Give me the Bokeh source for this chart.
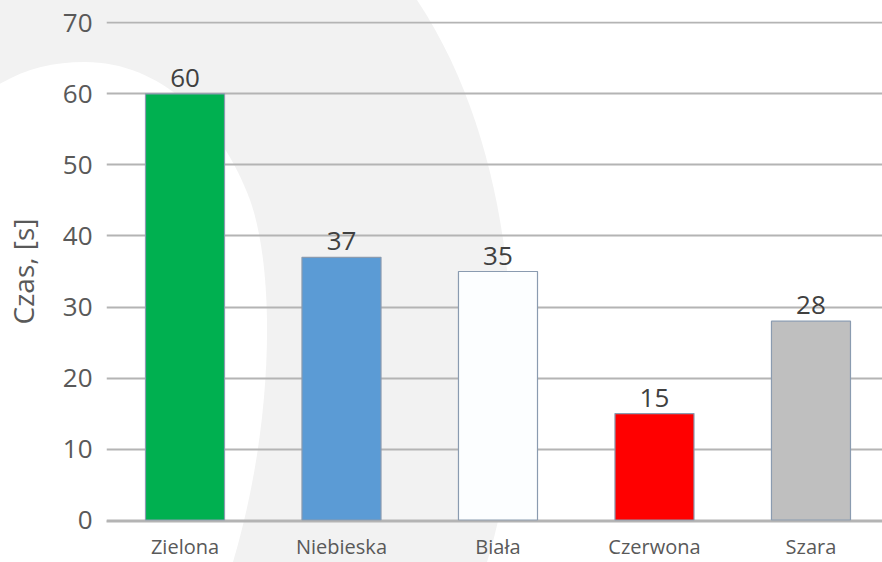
from urllib.parse import quote
from bokeh.plotting import figure
from bokeh.models import Range1d, FixedTicker, ColumnDataSource
from bokeh.core.properties import value
from bokeh.embed import file_html
from bokeh.resources import INLINE

# ---- data ----
categories = ["Zielona", "Niebieska", "Biała", "Czerwona", "Szara"]
times = [60, 37, 35, 15, 28]
bar_colors = ["#00b050", "#5b9bd5", "#fcfeff", "#ff0000", "#bfbfbf"]
y_ticks = [0, 10, 20, 30, 40, 50, 60, 70]

FONT = "Open Sans"

idx = list(range(len(categories)))
src = ColumnDataSource(dict(
    x=idx, top=times, color=bar_colors,
    label=[str(v) for v in times], cat=categories,
))

p = figure(
    width=882, height=562,
    x_range=Range1d(-0.5016, 4.457),
    y_range=Range1d(-0.2, 70.2),
    output_backend="svg", toolbar_location=None,
    min_border_left=106, min_border_right=0,
    min_border_top=21, min_border_bottom=38,
)

# decorative watermark behind the chart (page background)
bg_svg = (
    "<svg xmlns='http://www.w3.org/2000/svg' width='882' height='562' viewBox='0 0 882 562'>"
    "<rect width='882' height='562' fill='#ffffff'/>"
    "<path d='M0,0 L417,0 C490,110 513,250 513,380 C513,460 500,520 487,562 L0,562 Z' fill='#f2f2f2'/>"
    "<path d='M-10,90 C20,70 50,62 85,62 C160,62 220,120 250,200 C275,270 275,420 233,562 L-10,562 Z' fill='#ffffff'/>"
    "</svg>"
)
p.styles = {
    "background-image": 'url("data:image/svg+xml,' + quote(bg_svg) + '")',
    "background-size": "882px 562px",
    "background-repeat": "no-repeat",
}
p.background_fill_color = None
p.border_fill_color = None
p.outline_line_color = None

p.vbar(x="x", top="top", width=0.505, bottom=0, source=src,
       fill_color="color", line_color="#8a9bb0", line_width=1.2)

p.text(x="x", y="top", text="label", source=src,
       text_font=value(FONT), text_font_size="26px", text_color="#404040",
       text_align="center", text_baseline="bottom", y_offset=-7)

# axes
p.xgrid.grid_line_color = None
p.ygrid.grid_line_color = "#b4b4b4"
p.ygrid.grid_line_width = 2
p.ygrid.ticker = FixedTicker(ticks=y_ticks)

p.yaxis.ticker = FixedTicker(ticks=y_ticks)
p.yaxis.axis_line_color = None
p.yaxis.major_tick_line_color = None
p.yaxis.minor_tick_line_color = None
p.yaxis.major_tick_out = 0
p.yaxis.major_label_standoff = 14
p.yaxis.major_label_text_font = FONT
p.yaxis.major_label_text_font_size = "26px"
p.yaxis.major_label_text_color = "#595959"
p.yaxis.axis_label = "Czas, [s]"
p.yaxis.axis_label_text_font = FONT
p.yaxis.axis_label_text_font_size = "28px"
p.yaxis.axis_label_text_font_style = "normal"
p.yaxis.axis_label_text_color = "#595959"
p.yaxis.axis_label_standoff = 18

p.xaxis.ticker = FixedTicker(ticks=idx)
p.xaxis.major_label_overrides = {i: c for i, c in zip(idx, categories)}
p.xaxis.axis_line_color = "#b4b4b4"
p.xaxis.axis_line_width = 2
p.xaxis.major_tick_line_color = None
p.xaxis.minor_tick_line_color = None
p.xaxis.major_tick_out = 0
p.xaxis.major_label_standoff = 11
p.xaxis.major_label_text_font = FONT
p.xaxis.major_label_text_font_size = "20px"
p.xaxis.major_label_text_color = "#595959"

open("out.html", "w").write(file_html(p, INLINE))
